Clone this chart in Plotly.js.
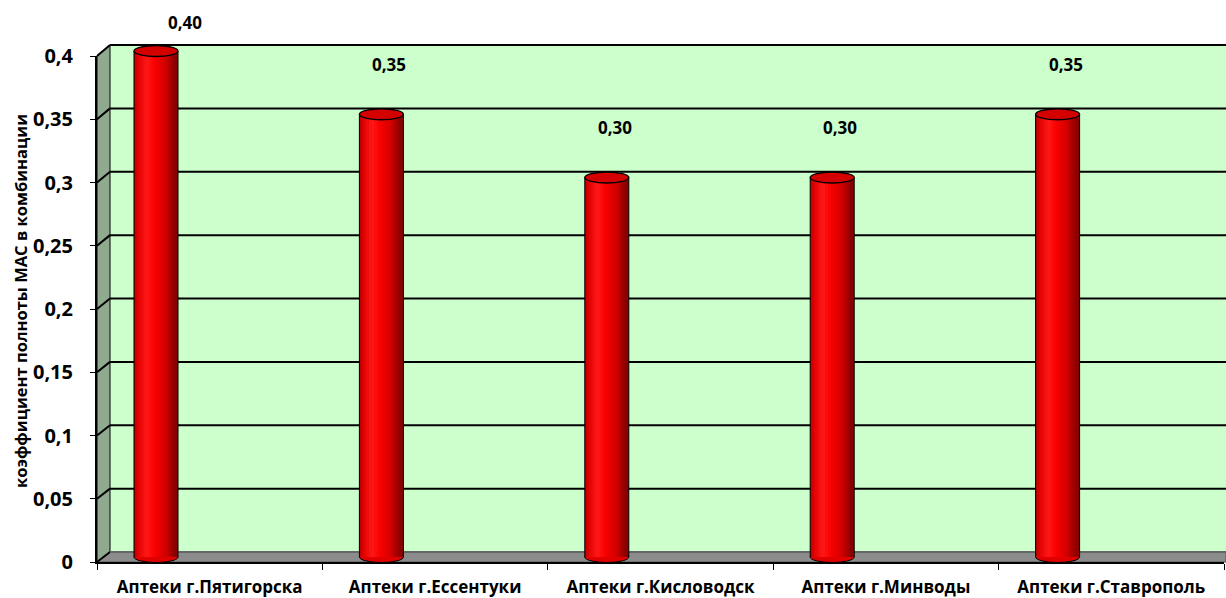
<!DOCTYPE html>
<html><head><meta charset="utf-8">
<script src="https://cdn.plot.ly/plotly-3.0.1.min.js"></script>
<style>html,body{margin:0;padding:0;background:#fff}#chart{width:1226px;height:598px}</style>
</head><body><div id="chart"></div>
<script>
// ---- data ----
const categories = ['Аптеки г.Пятигорска','Аптеки г.Ессентуки','Аптеки г.Кисловодск','Аптеки г.Минводы','Аптеки г.Ставрополь'];
const values = [0.40, 0.35, 0.30, 0.30, 0.35];
const valueLabels = ['0,40','0,35','0,30','0,30','0,35'];
const yTickVals = [0, 0.05, 0.1, 0.15, 0.2, 0.25, 0.3, 0.35, 0.4];
const yTickText = ['0','0,05','0,1','0,15','0,2','0,25','0,3','0,35','0,4'];
const yTitle = 'коэффициент полноты МАС в комбинации';

// ---- layout geometry (pixels) ----
const W = 1226, H = 598;
const FRONT = {x0: 97, x1: 1224, yb: 562, yt: 56};
const BACK  = {x0: 110, x1: W, yb: 552, yt: 45};
const BARAX = {yb: 557, yt: 51, firstCenter: 156, padTop: 25, padBot: 10};
const YMAX = 0.4;
const BAR_W_PX = 44, ELL_H_PX = 11;
const FONT = '"Open Sans", "DejaVu Sans", sans-serif';

const fx = p => p / W, fy = p => 1 - p / H;
const catPx = (FRONT.x1 - FRONT.x0) / categories.length;
const barShift = (BARAX.firstCenter - FRONT.x0) / catPx;
const barW = BAR_W_PX / catPx;
const y3Scale = (BARAX.yb - BARAX.yt) / YMAX;
const ellH = ELL_H_PX / y3Scale;
const yFrontPx = v => FRONT.yb - v * (FRONT.yb - FRONT.yt) / YMAX;
const yBackPx = v => BACK.yb - v * (BACK.yb - BACK.yt) / YMAX;
const idx = categories.map((c, i) => i);

// cylinder shading
const stops = [[0,[160,0,0]],[0.12,[225,0,0]],[0.32,[255,25,25]],[0.5,[250,0,0]],[0.75,[210,0,0]],[1,[125,0,0]]];
function shade(t){
  for (let k=1;k<stops.length;k++){
    if (t<=stops[k][0]){
      const a=stops[k-1], b=stops[k], u=(t-a[0])/(b[0]-a[0]);
      const c=a[1].map((v,j)=>Math.round(v+(b[1][j]-v)*u));
      return `rgb(${c[0]},${c[1]},${c[2]})`;
    }
  }
  return 'rgb(125,0,0)';
}
const N = 16;
const ov = 1.5 / catPx;
const traces = [];
for (let j=0;j<N;j++){
  const o = j===0 ? 0 : ov;
  traces.push({type:'bar', x: idx, y: values, xaxis:'x3', yaxis:'y3',
    offset: -barW/2 + j*barW/N - o, width: barW/N + o,
    marker:{color: shade((j+0.5)/N), line:{width:0}},
    hoverinfo:'skip', showlegend:false});
}
// side outlines
const ox=[], oy=[];
idx.forEach((i)=>{ ox.push(i-barW/2,i-barW/2,null,i+barW/2,i+barW/2,null); oy.push(0,values[i],null,0,values[i],null); });
traces.push({type:'scatter', mode:'lines', x:ox, y:oy, xaxis:'x3', yaxis:'y3',
  line:{color:'#000', width:1}, hoverinfo:'skip', showlegend:false});
// front axes carrier (invisible)
traces.push({type:'scatter', x:categories, y:values, mode:'markers', marker:{opacity:0}, xaxis:'x', yaxis:'y', hoverinfo:'skip', showlegend:false});
traces.push({type:'scatter', x:[0], y:[0], mode:'markers', marker:{opacity:0}, xaxis:'x2', yaxis:'y2', hoverinfo:'skip', showlegend:false});

const shapes = [];
shapes.push({type:'rect', xref:'paper', yref:'paper', x0:fx(BACK.x0), x1:fx(BACK.x1), y0:fy(BACK.yb), y1:fy(BACK.yt), fillcolor:'#CCFFCC', line:{width:0}, layer:'below'});
shapes.push({type:'path', xref:'paper', yref:'paper', layer:'below', fillcolor:'#8FAA8F', line:{color:'#000', width:1},
  path:`M ${fx(FRONT.x0)},${fy(FRONT.yt)} L ${fx(BACK.x0)},${fy(BACK.yt)} L ${fx(BACK.x0)},${fy(BACK.yb)} L ${fx(FRONT.x0)},${fy(FRONT.yb)} Z`});
shapes.push({type:'path', xref:'paper', yref:'paper', layer:'below', fillcolor:'#8C8C8C', line:{color:'#555', width:1},
  path:`M ${fx(FRONT.x0)},${fy(FRONT.yb)} L ${fx(BACK.x0)},${fy(BACK.yb)} L ${fx(BACK.x1)},${fy(BACK.yb)} L ${fx(BACK.x1)},${fy(FRONT.yb)} Z`});
yTickVals.forEach(v=>{
  shapes.push({type:'line', xref:'paper', yref:'paper', layer:'below', x0:fx(FRONT.x0), y0:fy(yFrontPx(v)), x1:fx(BACK.x0), y1:fy(yBackPx(v)), line:{color:'#000', width:2}});
});
yTickVals.forEach(v=>{
  shapes.push({type:'line', xref:'paper', yref:'paper', layer:'below', x0:fx(BACK.x0), y0:fy(yBackPx(v)), x1:fx(BACK.x1), y1:fy(yBackPx(v)), line:{color: v===0 ? '#666' : '#000', width:2}});
});
idx.forEach(i=>{
  shapes.push({type:'circle', xref:'x3', yref:'y3', layer:'below', x0:i-barW/2, x1:i+barW/2, y0:-ellH/2, y1:ellH/2, fillcolor:'#E00000', line:{color:'#000', width:1}});
  shapes.push({type:'circle', xref:'x3', yref:'y3', layer:'above', x0:i-barW/2, x1:i+barW/2, y0:values[i]-ellH/2, y1:values[i]+ellH/2, fillcolor:'#D40000', line:{color:'#000', width:1.3}});
});

const annotations = idx.map(i=>{
  const topPx = BARAX.yb - values[i]*y3Scale;
  let ys = 50, xs = 8;
  if (topPx - ys < 23) { ys = topPx - 23; xs = 29; }
  return {xref:'x3', yref:'y3', x:i, y:values[i], xshift:xs, yshift:ys, text:valueLabels[i], showarrow:false,
    xanchor:'center', yanchor:'middle',
    font:{family:FONT, size:17, color:'#000', weight:'bold'}};
});
annotations.push({xref:'paper', yref:'paper', x:fx(20), y:fy(301), xanchor:'center', yanchor:'middle', text:yTitle, textangle:-90, showarrow:false,
  font:{family:FONT, size:16.5, color:'#000', weight:'bold'}});

// bar axis extended so that the ellipses are not clipped
const y3Lo = -(BARAX.padBot) / y3Scale;
const y3Hi = YMAX + (BARAX.padTop) / y3Scale;

const layout = {
  width:W, height:H, margin:{l:0,r:0,t:0,b:0}, paper_bgcolor:'#fff', plot_bgcolor:'rgba(0,0,0,0)',
  showlegend:false, barmode:'overlay', font:{family:FONT, color:'#000'},
  xaxis:{domain:[fx(FRONT.x0), fx(FRONT.x1)], anchor:'y', type:'category', range:[-0.5, categories.length-0.5], tickson:'boundaries', ticks:'outside', ticklen:6, tickcolor:'#000', tickwidth:1,
    showline:true, linecolor:'#000', linewidth:2, showgrid:false, zeroline:false, fixedrange:true,
    tickfont:{family:FONT, size:17, color:'#000', weight:'bold'}, ticklabelstandoff:9},
  yaxis:{domain:[fy(FRONT.yb), fy(FRONT.yt)], anchor:'x', range:[0,YMAX], tickvals:yTickVals, ticktext:yTickText, ticks:'outside', ticklen:5, tickcolor:'#000',
    showline:true, linecolor:'#000', linewidth:2, showgrid:false, zeroline:false, fixedrange:true, ticklabelstandoff:13,
    tickfont:{family:FONT, size:20, color:'#000', weight:'bold'}},
  xaxis2:{domain:[fx(BACK.x0), 1], anchor:'y2', visible:false, range:[0,1]},
  yaxis2:{domain:[fy(BACK.yb), fy(BACK.yt)], anchor:'x2', visible:false, range:[0,YMAX]},
  xaxis3:{domain:[fx(FRONT.x0), fx(FRONT.x1)], anchor:'y3', visible:false, range:[-barShift, categories.length-barShift]},
  yaxis3:{domain:[fy(BARAX.yb + BARAX.padBot), fy(BARAX.yt - BARAX.padTop)], anchor:'x3', visible:false, range:[y3Lo, y3Hi]},
  shapes, annotations
};
Plotly.newPlot('chart', traces, layout, {staticPlot:true, displayModeBar:false});
</script></body></html>
